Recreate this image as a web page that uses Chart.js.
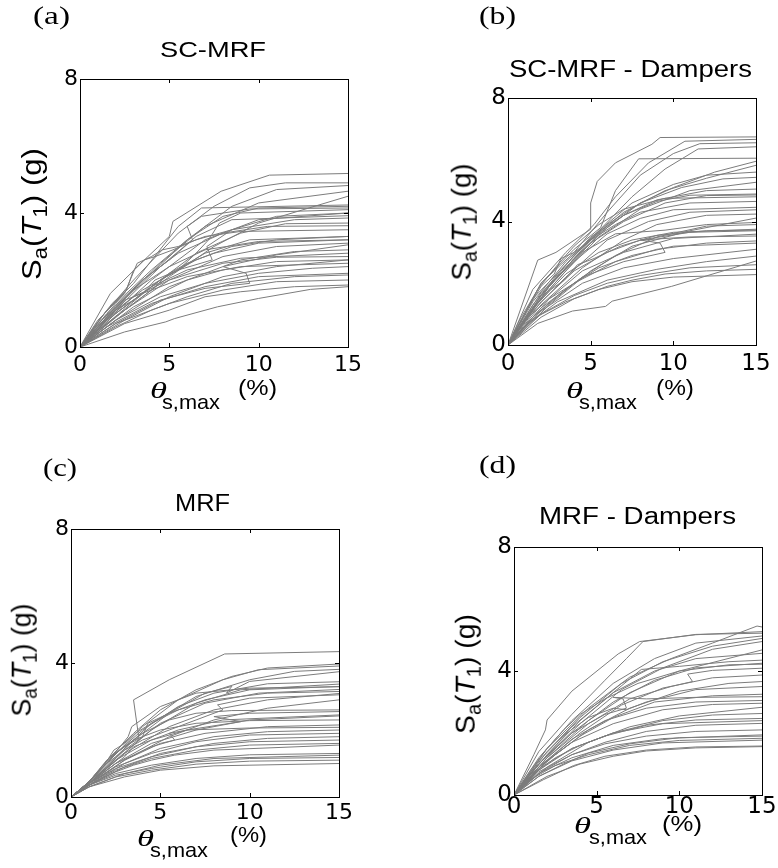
<!DOCTYPE html>
<html>
<head>
<meta charset="utf-8">
<script src="https://cdn.jsdelivr.net/npm/chart.js@4.4.1/dist/chart.umd.min.js"></script>
<style>
  body { margin: 0; background: #fff; width: 778px; height: 868px; position: relative; overflow: hidden; }
  canvas { position: absolute; }
  .t { position: absolute; white-space: nowrap; line-height: 1; color: #000; transform-origin: 0 0; }
  .sans { font-family: "Liberation Sans", Arial, sans-serif; }
  .serif { font-family: "Liberation Serif", "Times New Roman", serif; }
</style>
</head>
<body>
<canvas id="pa" width="389" height="434" style="left:0;top:0"></canvas>
<canvas id="pb" width="389" height="434" style="left:389px;top:0"></canvas>
<canvas id="pc" width="389" height="434" style="left:0;top:434px"></canvas>
<canvas id="pd" width="389" height="434" style="left:389px;top:434px"></canvas>
<script>
// axis ticks shared by the four panels
const xTicks = [0, 5, 10, 15];
const yTicks = [0, 4, 8];
const panelTags = ["(a)", "(b)", "(c)", "(d)"];
const panelTitles = ["SC-MRF", "SC-MRF - Dampers", "MRF", "MRF - Dampers"];

// IDA curves, [drift %, Sa(T1) g]
const scMrfCurves = [
  [[0,0],[1.7,1.6],[3.8,2.7],[5.0,3.3],[5.2,3.75],[7.9,4.65],[10.6,5.13],[15,5.18]],
  [[0,0],[1.2,0.9],[3.0,2.0],[5.5,3.4],[7.5,4.2],[9.5,4.75],[11.5,4.9],[15,4.9]],
  [[0,0],[1.5,0.9],[4.0,2.2],[6.0,3.2],[8.5,4.2],[11,4.7],[15,4.82]],
  [[0,0],[2.0,1.2],[4.5,2.5],[7.0,3.6],[10,4.3],[15,4.65]],
  [[0,0],[2.0,0.9],[5.0,2.1],[7.5,3.0],[10,3.7],[15,4.5]],
  [[0,0],[1.5,1.1],[3.0,1.9],[5.5,3.6],[6.8,4.15],[15,4.24]],
  [[0,0],[2.0,1.3],[4.0,2.3],[6.0,3.2],[8.0,3.9],[10,4.15],[15,4.2]],
  [[0,0],[2.0,1.2],[3.5,2.0],[5.0,2.6],[6.3,3.2],[6.0,3.6],[6.8,3.9],[9.5,4.12],[15,4.15]],
  [[0,0],[1.5,0.9],[3.5,1.7],[5.5,2.3],[7.4,2.6],[7.1,3.0],[8.5,3.5],[11,3.9],[15,4.0]],
  [[0,0],[1.2,0.7],[2.5,1.4],[3.5,1.6],[4.2,2.0],[5.5,2.3],[6.5,2.8],[7.2,3.2],[7.8,3.7],[9.0,4.0],[15,4.1]],
  [[0,0],[1.5,0.8],[4.0,2.0],[7.0,3.2],[10,3.8],[15,4.0]],
  [[0,0],[2.0,1.1],[4.5,2.4],[6.5,3.3],[8.5,3.8],[15,3.92]],
  [[0,0],[0.8,0.6],[1.8,1.3],[2.6,1.7],[3.0,2.3],[3.6,2.6],[4.2,2.7],[5.2,2.9],[6.5,3.2],[8.5,3.5],[12,3.8],[15,3.85]],
  [[0,0],[1.5,0.7],[4.0,1.8],[6.5,2.8],[9.0,3.4],[11.5,3.68],[15,3.7]],
  [[0,0],[1.5,1.0],[3.5,2.0],[5.5,2.8],[8.0,3.4],[10.5,3.6],[15,3.62]],
  [[0,0],[1.0,0.8],[2.5,1.6],[3.2,2.5],[4.0,2.7],[4.6,2.9],[5.5,3.0],[7.0,3.3],[9.0,3.45],[15,3.5]],
  [[0,0],[2.0,1.0],[4.5,2.0],[7.0,2.8],[9.5,3.2],[15,3.3]],
  [[0,0],[1.0,0.55],[2.0,1.1],[3.0,1.4],[4.5,2.0],[6.5,2.6],[8.5,3.0],[11,3.2],[15,3.3]],
  [[0,0],[1.0,0.7],[3.0,1.7],[5.0,2.4],[7.0,2.9],[10,3.15],[15,3.2]],
  [[0,0],[1.0,0.5],[2.5,1.1],[4.0,1.7],[5.0,2.2],[6.0,2.5],[7.5,2.8],[10,3.1],[15,3.2]],
  [[0,0],[2.5,1.1],[5.0,2.0],[8.0,2.7],[11,3.0],[15,3.1]],
  [[0,0],[2.0,0.8],[5.0,1.8],[8.0,2.4],[11,2.75],[15,3.05]],
  [[0,0],[2.0,0.7],[4.5,1.4],[7.0,1.75],[9.5,1.9],[9.3,2.2],[8.0,2.4],[9.0,2.6],[12,2.85],[15,2.9]],
  [[0,0],[2.0,1.0],[4.0,1.8],[6.0,2.3],[9.0,2.65],[15,2.8]],
  [[0,0],[1.0,0.6],[3.0,1.5],[5.0,2.0],[8.0,2.5],[11,2.68],[15,2.7]],
  [[0,0],[2.5,0.8],[5.0,1.5],[8.0,2.1],[11,2.4],[15,2.6]],
  [[0,0],[1.5,0.6],[3.0,1.2],[4.5,1.6],[6.0,2.0],[8.0,2.3],[11,2.55],[15,2.6]],
  [[0,0],[1.5,0.8],[3.5,1.6],[6.0,2.1],[9.0,2.4],[15,2.5]],
  [[0,0],[2.0,0.8],[4.5,1.5],[7.0,1.9],[10,2.2],[13,2.35],[15,2.4]],
  [[0,0],[1.5,0.6],[4.0,1.3],[7.0,1.8],[10,2.1],[15,2.2]],
  [[0,0],[2.0,0.6],[4.0,1.1],[6.0,1.5],[8.5,1.9],[12,2.1],[15,2.15]],
  [[0,0],[2.0,0.7],[5.0,1.3],[8.0,1.7],[11,1.95],[15,2.0]],
  [[0,0],[2.5,0.7],[5.0,1.1],[7.0,1.5],[9.0,1.65],[12,1.8],[15,1.85]],
  [[0,0],[2.5,0.45],[4.8,0.75],[5.3,0.85],[7.7,1.2],[10,1.45],[12.9,1.72],[15,1.8]]
];

const scMrfDamperCurves = [
  [[0,0],[1.8,2.75],[2.9,3.0],[5.0,3.75],[5.0,4.6],[5.4,5.3],[6.5,5.9],[8.7,6.5],[9.2,6.72],[15,6.74]],
  [[0,0],[1.5,1.8],[3.5,3.0],[5.2,3.9],[6.5,4.8],[8.5,5.9],[10.7,6.6],[15,6.66]],
  [[0,0],[2.0,2.0],[4.0,3.0],[6.0,4.3],[8.0,5.5],[10,6.2],[11.6,6.52],[15,6.55]],
  [[0,0],[1.5,1.5],[3.5,2.6],[5.5,3.7],[7.5,4.8],[9.5,5.7],[11.5,6.35],[15,6.42]],
  [[0,0],[2.0,2.0],[4.0,3.1],[5.6,3.8],[6.5,5.0],[7.9,6.03],[15,6.05]],
  [[0,0],[2.0,1.6],[4.0,2.8],[6.0,3.8],[8.0,4.6],[10,5.1],[12.5,5.6],[15,5.95]],
  [[0,0],[2.5,1.9],[5.0,3.4],[7.0,4.3],[9.5,5.0],[12,5.4],[15,5.82]],
  [[0,0],[1.5,1.4],[3.5,2.7],[5.5,3.7],[7.5,4.6],[10,5.2],[12,5.5],[15,5.6]],
  [[0,0],[2.0,1.6],[4.0,2.9],[6.0,3.9],[8.0,4.6],[10.5,5.1],[13,5.38],[15,5.43]],
  [[0,0],[1.5,1.2],[3.5,2.4],[5.5,3.5],[8.0,4.4],[11,5.0],[15,5.27]],
  [[0,0],[2.0,1.6],[4.0,2.8],[5.5,3.6],[7.0,4.2],[9.0,4.7],[12,5.0],[15,5.05]],
  [[0,0],[1.5,1.3],[3.0,2.3],[5.0,3.5],[7.0,4.2],[9.0,4.65],[11,4.85],[15,4.89]],
  [[0,0],[2.5,1.9],[5.0,3.3],[7.0,4.0],[9.5,4.6],[12,4.84],[15,4.86]],
  [[0,0],[0.8,0.9],[1.8,1.8],[3.0,2.6],[4.0,3.2],[5.5,3.9],[7.0,4.4],[9.5,4.75],[15,4.8]],
  [[0,0],[1.0,1.0],[2.0,1.9],[2.8,2.3],[3.2,2.8],[4.0,3.0],[5.0,3.4],[6.5,3.9],[8.0,4.3],[11,4.6],[15,4.65]],
  [[0,0],[2.0,1.5],[4.0,2.7],[6.0,3.6],[8.0,4.1],[10,4.38],[15,4.46]],
  [[0,0],[1.5,1.1],[3.5,2.2],[6.0,3.4],[8.5,4.0],[11,4.3],[15,4.38]],
  [[0,0],[2.0,1.3],[4.5,2.5],[7.0,3.4],[9.0,3.9],[12,4.2],[15,4.24]],
  [[0,0],[2.5,1.3],[5.0,2.4],[7.5,3.2],[11,3.7],[15,4.11]],
  [[0,0],[2.0,1.7],[4.5,3.0],[6.5,3.6],[9.5,3.72],[12,3.9],[15,3.97]],
  [[0,0],[1.5,0.9],[3.0,1.6],[4.5,2.2],[6.5,2.9],[9.0,3.5],[12,3.85],[15,3.9]],
  [[0,0],[1.5,1.2],[3.5,2.3],[5.5,3.0],[7.5,3.4],[10,3.65],[15,3.75]],
  [[0,0],[1.2,1.0],[2.6,1.8],[3.4,2.1],[4.2,2.6],[5.2,2.8],[6.8,3.2],[9.0,3.55],[12,3.7],[15,3.72]],
  [[0,0],[2.0,1.4],[4.0,2.4],[6.0,3.0],[8.0,3.4],[11,3.65],[15,3.7]],
  [[0,0],[2.5,1.5],[4.5,2.4],[7.0,3.0],[10,3.45],[15,3.59]],
  [[0,0],[2.0,1.2],[4.5,2.2],[7.0,2.7],[9.5,3.0],[9.2,3.3],[8.0,3.4],[11,3.5],[15,3.53]],
  [[0,0],[1.5,0.9],[4.0,2.0],[6.5,2.7],[9.0,3.1],[12,3.3],[15,3.37]],
  [[0,0],[1.0,0.8],[2.5,1.5],[4.0,2.0],[5.5,2.5],[7.5,2.9],[10,3.2],[15,3.3]],
  [[0,0],[2.0,1.1],[4.5,2.0],[7.0,2.5],[10,2.8],[15,3.1]],
  [[0,0],[1.0,0.6],[3.0,1.4],[6.0,2.1],[9.0,2.45],[12,2.7],[15,2.88]],
  [[0,0],[1.8,0.7],[3.9,1.1],[5.9,1.25],[6.3,1.42],[9.9,1.9],[15,2.72]],
  [[0,0],[2.0,1.0],[4.0,1.6],[6.0,2.0],[8.0,2.25],[11,2.5],[15,2.6]],
  [[0,0],[2.0,0.9],[4.0,1.5],[6.0,1.9],[7.5,2.1],[9.5,2.3],[12,2.4],[15,2.45]],
  [[0,0],[1.5,0.85],[3.5,1.4],[5.5,1.8],[7.5,2.05],[10,2.2],[15,2.28]]
];

const mrfCurves = [
  [[0,0],[1.0,0.45],[2.0,1.1],[3.0,1.5],[3.8,1.75],[3.5,2.9],[5.5,3.5],[8.6,4.27],[15,4.34]],
  [[0,0],[1.0,0.45],[2.2,1.2],[3.5,1.9],[5.0,2.6],[7.0,3.2],[9.0,3.6],[11,3.85],[15,3.97]],
  [[0,0],[1.0,0.45],[2.0,1.0],[4.0,2.1],[6.0,2.9],[8.5,3.5],[10.5,3.8],[15,3.91]],
  [[0,0],[1.0,0.4],[2.5,1.2],[4.5,2.2],[7.0,3.0],[10,3.5],[12.5,3.75],[15,3.81]],
  [[0,0],[1.0,0.45],[2.0,0.9],[3.5,1.7],[5.5,2.5],[7.5,3.1],[9.0,3.3],[8.7,3.1],[10,3.45],[15,3.74]],
  [[0,0],[1.0,0.45],[2.5,1.3],[4.0,2.0],[6.0,2.7],[8.0,3.1],[11,3.38],[15,3.44]],
  [[0,0],[1.2,0.5],[2.5,1.1],[4.5,2.0],[7.0,2.8],[9.5,3.2],[15,3.37]],
  [[0,0],[1.0,0.4],[2.0,0.85],[3.0,1.3],[4.0,1.8],[4.3,2.2],[5.5,2.5],[7.5,2.9],[10,3.2],[15,3.3]],
  [[0,0],[1.0,0.45],[2.0,1.0],[3.2,1.8],[3.4,2.1],[5.0,2.7],[7.0,3.1],[10,3.25],[15,3.29]],
  [[0,0],[1.0,0.4],[3.0,1.4],[5.0,2.2],[7.5,2.8],[10.5,3.1],[15,3.21]],
  [[0,0],[1.0,0.45],[1.8,0.9],[2.4,1.4],[3.0,1.6],[3.6,1.9],[4.5,2.2],[6.0,2.6],[8.0,2.9],[11,3.1],[15,3.15]],
  [[0,0],[1.0,0.4],[3.0,1.3],[5.5,2.1],[8.0,2.6],[11,2.9],[15,3.09]],
  [[0,0],[1.0,0.45],[2.0,1.0],[3.0,1.4],[4.0,1.7],[5.5,2.0],[7.0,2.3],[8.5,2.6],[8.2,2.75],[10,2.95],[15,3.05]],
  [[0,0],[1.0,0.35],[3.0,1.1],[5.5,1.8],[8.0,2.3],[11,2.65],[15,2.9]],
  [[0,0],[1.0,0.45],[2.5,1.3],[4.0,1.9],[5.5,2.3],[7.0,2.5],[9.0,2.58],[15,2.6]],
  [[0,0],[1.0,0.4],[2.5,1.1],[4.5,1.7],[6.5,2.0],[9.5,2.25],[8.0,2.4],[10,2.5],[15,2.55]],
  [[0,0],[1.0,0.4],[2.0,0.8],[3.0,1.2],[3.5,1.5],[4.5,1.7],[6.0,2.0],[8.5,2.3],[15,2.45]],
  [[0,0],[1.0,0.4],[2.5,1.0],[4.5,1.6],[7.0,2.0],[10,2.3],[15,2.42]],
  [[0,0],[1.0,0.45],[2.2,1.2],[3.5,1.7],[5.0,2.0],[7.0,2.2],[10,2.28],[15,2.3]],
  [[0,0],[1.0,0.4],[3.0,1.1],[5.0,1.6],[7.5,1.9],[11,2.1],[15,2.15]],
  [[0,0],[1.0,0.4],[2.5,1.0],[4.5,1.5],[5.8,1.7],[5.5,1.9],[6.5,2.0],[10,2.06],[15,2.08]],
  [[0,0],[1.0,0.35],[3.0,1.0],[5.0,1.45],[8.0,1.8],[11,1.95],[15,2.0]],
  [[0,0],[1.0,0.4],[2.5,0.9],[4.5,1.3],[7.0,1.65],[10,1.85],[15,1.9]],
  [[0,0],[1.0,0.35],[3.0,0.9],[5.0,1.3],[8.0,1.6],[11,1.75],[15,1.8]],
  [[0,0],[1.0,0.4],[2.5,0.85],[4.5,1.2],[7.0,1.5],[10,1.65],[15,1.7]],
  [[0,0],[1.0,0.35],[2.5,0.8],[4.5,1.15],[7.0,1.4],[10,1.55],[15,1.6]],
  [[0,0],[1.0,0.35],[2.5,0.75],[3.5,0.95],[4.5,1.1],[5.8,1.25],[8.0,1.4],[15,1.55]],
  [[0,0],[1.0,0.35],[2.5,0.7],[4.5,0.95],[7.0,1.15],[10,1.26],[15,1.3]],
  [[0,0],[1.0,0.3],[3.0,0.7],[5.0,0.95],[8.0,1.15],[15,1.25]],
  [[0,0],[1.0,0.35],[2.5,0.65],[4.5,0.85],[7.0,1.05],[10,1.15],[15,1.18]],
  [[0,0],[1.0,0.3],[2.5,0.6],[4.5,0.8],[7.0,0.98],[10,1.07],[15,1.1]],
  [[0,0],[1.0,0.3],[3.0,0.6],[5.0,0.8],[8.0,0.93],[15,1.0]]
];

const mrfDamperCurves = [
  [[0,0],[1.2,1.3],[1.9,2.1],[2.0,2.42],[3.5,3.35],[6.3,4.55],[7.6,4.95],[11,5.17],[15,5.27]],
  [[0,0],[1.5,1.4],[3.5,2.6],[5.5,3.7],[6.8,4.4],[7.8,4.95],[11,5.18],[15,5.22]],
  [[0,0],[2.0,1.5],[4.5,2.8],[7.0,3.8],[9.5,4.4],[12,4.9],[14.7,5.45],[15,5.42]],
  [[0,0],[1.5,1.2],[3.5,2.4],[6.0,3.6],[8.5,4.4],[11,4.9],[15,5.13]],
  [[0,0],[2.0,1.4],[4.0,2.5],[6.5,3.6],[9.0,4.3],[12,4.8],[15,5.05]],
  [[0,0],[1.5,1.0],[4.0,2.3],[6.5,3.4],[9.0,4.1],[12,4.7],[15,4.95]],
  [[0,0],[2.0,1.2],[4.5,2.4],[7.0,3.3],[10,4.0],[15,4.68]],
  [[0,0],[1.5,1.1],[3.5,2.2],[6.0,3.3],[8.5,4.0],[11,4.4],[15,4.57]],
  [[0,0],[2.0,1.3],[4.0,2.4],[6.0,3.3],[7.7,4.05],[10,4.15],[13,4.3],[15,4.35]],
  [[0,0],[1.5,1.0],[3.5,2.0],[6.0,3.0],[8.5,3.7],[11,4.1],[15,4.25]],
  [[0,0],[1.0,0.8],[2.0,1.5],[3.0,2.1],[4.0,2.6],[5.5,3.1],[7.5,3.6],[10,4.0],[13,4.2],[15,4.22]],
  [[0,0],[2.0,1.2],[4.5,2.3],[7.0,3.1],[9.5,3.5],[10.8,3.66],[10.5,3.9],[12,4.02],[15,4.09]],
  [[0,0],[1.5,0.9],[4.0,2.0],[6.5,2.9],[9.0,3.45],[12,3.78],[15,3.87]],
  [[0,0],[2.0,1.1],[4.5,2.1],[7.0,2.8],[10,3.35],[13,3.6],[15,3.66]],
  [[0,0],[1.0,0.7],[2.2,1.4],[3.2,2.0],[4.5,2.5],[6.0,2.8],[6.8,2.75],[8.0,3.0],[11,3.4],[15,3.5]],
  [[0,0],[1.2,0.7],[2.5,1.3],[4.0,1.9],[6.0,2.5],[8.5,3.0],[12,3.2],[15,3.25]],
  [[0,0],[1.5,1.0],[3.5,2.0],[5.5,2.6],[6.8,2.8],[6.6,3.1],[6.0,3.15],[8.0,3.1],[11,3.15],[15,3.17]],
  [[0,0],[1.5,0.9],[3.5,1.8],[5.5,2.4],[8.0,2.8],[11,3.0],[15,3.05]],
  [[0,0],[1.5,0.9],[3.5,1.7],[6.0,2.3],[9.0,2.75],[12,2.92],[15,2.96]],
  [[0,0],[2.0,0.9],[4.5,1.7],[7.0,2.2],[10,2.55],[15,2.83]],
  [[0,0],[1.5,0.8],[3.5,1.5],[6.0,2.0],[9.0,2.4],[12,2.58],[15,2.63]],
  [[0,0],[1.5,0.85],[3.5,1.5],[5.5,1.9],[8.0,2.25],[11,2.42],[15,2.47]],
  [[0,0],[1.0,0.6],[2.5,1.2],[4.0,1.6],[6.0,2.0],[9.0,2.3],[15,2.4]],
  [[0,0],[1.5,0.7],[3.5,1.3],[5.5,1.7],[8.0,2.05],[11,2.25],[15,2.31]],
  [[0,0],[1.5,0.75],[3.5,1.3],[5.5,1.65],[8.0,1.9],[11,2.05],[15,2.1]],
  [[0,0],[1.5,0.7],[3.5,1.2],[6.0,1.6],[9.0,1.82],[15,1.94]],
  [[0,0],[1.5,0.6],[3.0,1.0],[4.5,1.35],[7.0,1.65],[10,1.85],[15,1.9]],
  [[0,0],[1.0,0.5],[2.5,0.95],[4.5,1.3],[7.0,1.6],[10,1.76],[15,1.83]],
  [[0,0],[1.5,0.6],[3.5,1.1],[6.0,1.45],[9.0,1.68],[15,1.77]],
  [[0,0],[2.0,0.6],[4.0,1.0],[6.0,1.25],[8.0,1.42],[11,1.52],[15,1.56]],
  [[0,0],[1.8,0.5],[3.6,0.95],[5.5,1.25],[8.0,1.45],[11,1.55],[15,1.58]]
];

const lineColor = "#7c7c7c";

// frame box with MATLAB style inward ticks
const boxPlugin = {
  id: "box",
  afterDatasetsDraw(chart) {
    const { ctx, chartArea: a, scales } = chart;
    ctx.save();
    ctx.strokeStyle = "#000";
    ctx.lineWidth = 1;
    ctx.strokeRect(a.left + 0.5, a.top + 0.5, a.right - a.left, a.bottom - a.top);
    ctx.beginPath();
    xTicks.slice(1, -1).forEach(v => {
      const px = Math.round(scales.x.getPixelForValue(v)) + 0.5;
      ctx.moveTo(px, a.bottom); ctx.lineTo(px, a.bottom - 4);
      ctx.moveTo(px, a.top); ctx.lineTo(px, a.top + 4);
    });
    yTicks.slice(1, -1).forEach(v => {
      const py = Math.round(scales.y.getPixelForValue(v)) + 0.5;
      ctx.moveTo(a.left, py); ctx.lineTo(a.left + 4, py);
      ctx.moveTo(a.right, py); ctx.lineTo(a.right - 4, py);
    });
    ctx.stroke();
    ctx.restore();
  }
};

function drawPanel(id, curves, box) {
  const tickFont = { family: "DejaVu Sans", size: box.fs };
  new Chart(id, {
    type: "scatter",
    data: {
      datasets: curves.map(c => ({
        data: c.map(p => ({ x: p[0], y: p[1] })),
        showLine: true,
        borderColor: lineColor,
        borderWidth: 1,
        pointRadius: 0,
        tension: 0
      }))
    },
    options: {
      responsive: false,
      animation: false,
      layout: { padding: { left: 0, right: box.r, top: box.t, bottom: 0 } },
      plugins: { legend: { display: false }, tooltip: { enabled: false } },
      scales: {
        x: {
          type: "linear", min: 0, max: 15,
          ticks: { stepSize: 5, color: "#000", font: tickFont, padding: box.xp, maxRotation: 0 },
          grid: { display: false, drawTicks: false },
          border: { display: false },
          afterFit: s => { s.height = box.xh; }
        },
        y: {
          min: 0, max: 8,
          ticks: { stepSize: 4, color: "#000", font: tickFont, padding: 2 },
          grid: { display: false, drawTicks: false },
          border: { display: false },
          afterFit: s => { s.width = box.yw; }
        }
      }
    },
    plugins: [boxPlugin]
  });
}

drawPanel("pa", scMrfCurves,       { yw: 80,  r: 41, t: 79,  xh: 87, fs: 22, xp: 5 });
drawPanel("pb", scMrfDamperCurves, { yw: 119, r: 22, t: 98,  xh: 89, fs: 23, xp: 5 });
drawPanel("pc", mrfCurves,         { yw: 71,  r: 50, t: 95,  xh: 71, fs: 22, xp: 3 });
drawPanel("pd", mrfDamperCurves,   { yw: 125, r: 16, t: 113, xh: 73, fs: 23, xp: -2 });

// ---- text: titles, tags and axis labels as html ----
function addText(html, cls, size, opts) {
  const el = document.createElement("div");
  el.className = "t " + cls;
  el.style.fontSize = size + "px";
  el.innerHTML = html;
  document.body.appendChild(el);
  const w = el.getBoundingClientRect().width;
  const sx = opts.w / w;
  const asc = cls.indexOf("serif") === 0 ? 0.8375 : 0.8465;
  const left = opts.cx !== undefined ? opts.cx - opts.w / 2 : opts.left;
  el.style.left = left + "px";
  el.style.top = (opts.base - asc * size) + "px";
  el.style.transform = "scaleX(" + sx + ")";
  return el;
}

function addYLabel(cx, cy, len) {
  const el = document.createElement("div");
  el.className = "t sans";
  el.style.fontSize = "24px";
  el.innerHTML = 'S<span style="font-size:17px;position:relative;top:5px">a</span>(<i>T</i><span style="font-size:17px;position:relative;top:5px">1</span>) (g)';
  document.body.appendChild(el);
  const r = el.getBoundingClientRect();
  el.style.transformOrigin = "50% 50%";
  el.style.left = (cx - r.width / 2) + "px";
  el.style.top = (cy - r.height / 2) + "px";
  el.style.transform = "rotate(-90deg) scale(" + (len / r.width) + ",1.15)";
}

// panel tags
addText(panelTags[0], "serif", 25, { cx: 51.5, base: 24, w: 37 });
addText(panelTags[1], "serif", 25, { cx: 497.5, base: 24, w: 37 });
addText(panelTags[2], "serif", 25, { cx: 60, base: 476, w: 34 });
addText(panelTags[3], "serif", 25, { cx: 497.5, base: 473, w: 37 });

// titles
addText(panelTitles[0], "sans", 22, { cx: 213, base: 58, w: 106 });
addText(panelTitles[1], "sans", 23, { cx: 630, base: 77, w: 243 });
addText(panelTitles[2], "sans", 23, { cx: 202, base: 511, w: 55 });
addText(panelTitles[3], "sans", 23, { cx: 637, base: 524, w: 197 });

// x labels: theta, subscript, unit
const xLab = [
  { th: 150, sub: 162, pc: 238, b: 398, bs: 409, bp: 396, wp: 39 },
  { th: 566, sub: 579, pc: 656, b: 398, bs: 409, bp: 396, wp: 38 },
  { th: 137, sub: 150, pc: 230, b: 846, bs: 857, bp: 843, wp: 37 },
  { th: 574, sub: 589, pc: 662, b: 833, bs: 844, bp: 832, wp: 40 }
];
xLab.forEach(p => {
  addText("<i>&theta;</i>", "serif", 24, { left: p.th, base: p.b, w: 17 });
  addText("s,max", "sans", 21, { left: p.sub, base: p.bs, w: 58 });
  addText("(%)", "sans", 22, { left: p.pc, base: p.bp, w: p.wp });
});

// y labels
addYLabel(31.5, 214, 132);
addYLabel(461.5, 221.5, 117);
addYLabel(22, 660, 113);
addYLabel(466, 674, 120);
</script>
</body>
</html>
